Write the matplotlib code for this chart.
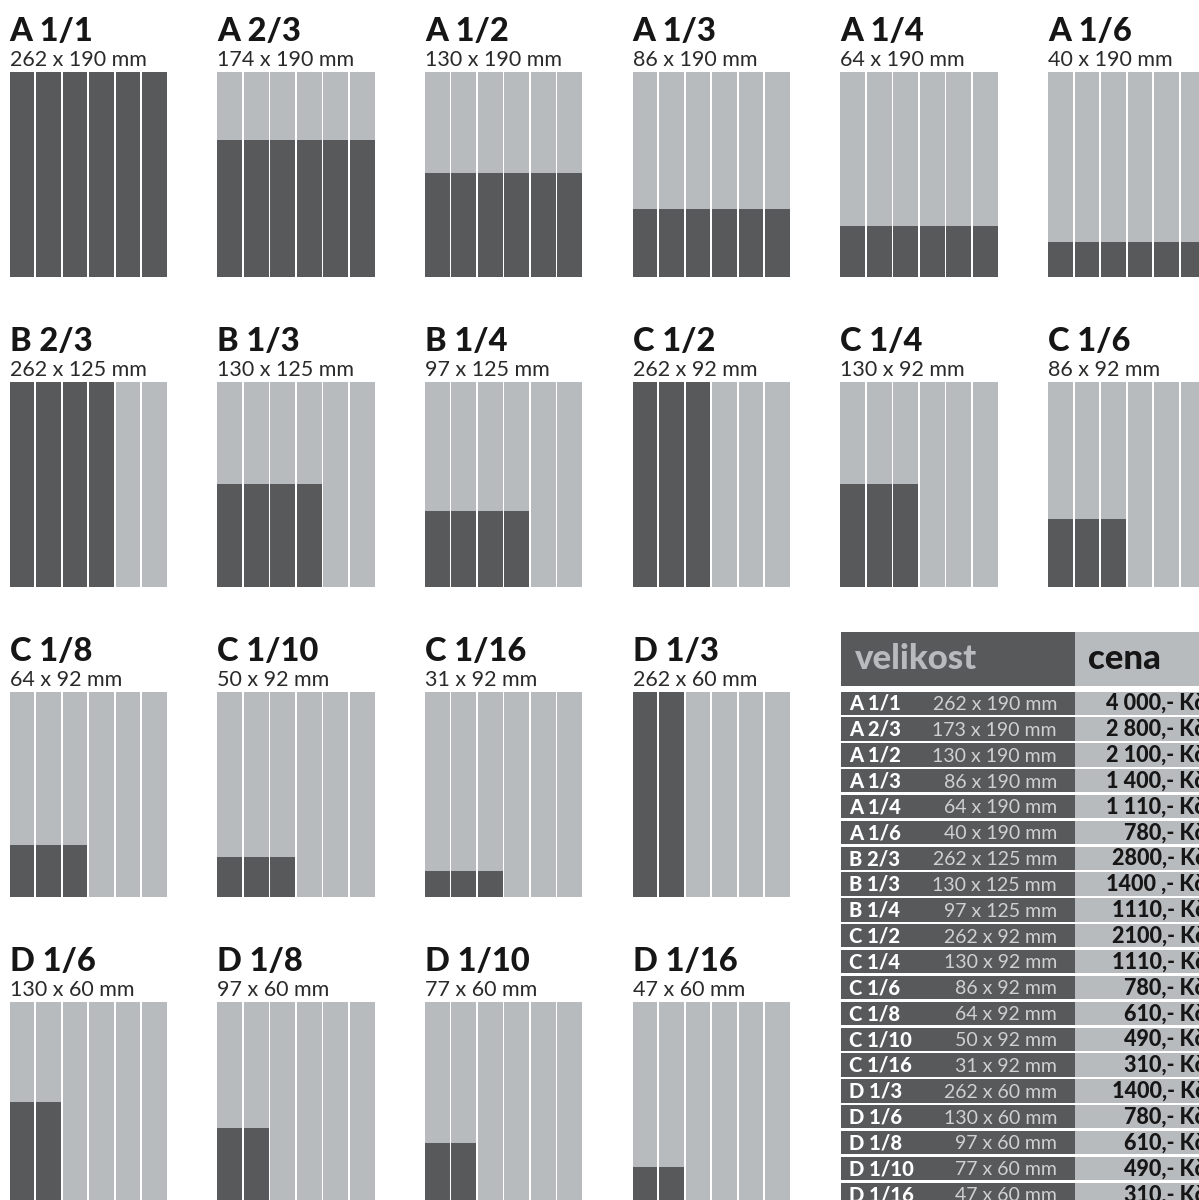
import matplotlib
matplotlib.use("Agg")
import matplotlib.pyplot as plt

# ---------------------------------------------------------
# DATA
# ---------------------------------------------------------

panel_names = ["A 1/1", "A 2/3", "A 1/2", "A 1/3", "A 1/4", "A 1/6",
               "B 2/3", "B 1/3", "B 1/4", "C 1/2", "C 1/4", "C 1/6",
               "C 1/8", "C 1/10", "C 1/16", "D 1/3",
               "D 1/6", "D 1/8", "D 1/10", "D 1/16"]
panel_sizes = ["262 x 190 mm", "174 x 190 mm", "130 x 190 mm", "86 x 190 mm",
               "64 x 190 mm", "40 x 190 mm",
               "262 x 125 mm", "130 x 125 mm", "97 x 125 mm", "262 x 92 mm",
               "130 x 92 mm", "86 x 92 mm",
               "64 x 92 mm", "50 x 92 mm", "31 x 92 mm", "262 x 60 mm",
               "130 x 60 mm", "97 x 60 mm", "77 x 60 mm", "47 x 60 mm"]
# how many of the 6 page columns are filled, and how high (share of page height)
dark_cols = [6, 6, 6, 6, 6, 6,
             4, 4, 4, 3, 3, 3,
             3, 3, 3, 2,
             2, 2, 2, 2]
dark_frac = [1.0, 0.667, 0.505, 0.334, 0.247, 0.171,
             1.0, 0.502, 0.372, 1.0, 0.502, 0.334,
             0.254, 0.193, 0.127, 1.0,
             0.51, 0.387, 0.31, 0.196]
panel_row = [0] * 6 + [1] * 6 + [2] * 4 + [3] * 4
panel_col = list(range(6)) * 2 + list(range(4)) * 2

table_names = ["A 1/1", "A 2/3", "A 1/2", "A 1/3", "A 1/4", "A 1/6",
               "B 2/3", "B 1/3", "B 1/4",
               "C 1/2", "C 1/4", "C 1/6", "C 1/8", "C 1/10", "C 1/16",
               "D 1/3", "D 1/6", "D 1/8", "D 1/10", "D 1/16"]
table_sizes = ["262 x 190 mm", "173 x 190 mm", "130 x 190 mm", "86 x 190 mm",
               "64 x 190 mm", "40 x 190 mm",
               "262 x 125 mm", "130 x 125 mm", "97 x 125 mm",
               "262 x 92 mm", "130 x 92 mm", "86 x 92 mm", "64 x 92 mm",
               "50 x 92 mm", "31 x 92 mm",
               "262 x 60 mm", "130 x 60 mm", "97 x 60 mm", "77 x 60 mm",
               "47 x 60 mm"]
table_prices = ["4 000,- Kč", "2 800,- Kč", "2 100,- Kč", "1 400,- Kč",
                "1 110,- Kč", "780,- Kč",
                "2800,- Kč", "1400 ,- Kč", "1110,- Kč",
                "2100,- Kč", "1110,- Kč", "780,- Kč", "610,- Kč",
                "490,- Kč", "310,- Kč",
                "1400,- Kč", "780,- Kč", "610,- Kč", "490,- Kč", "310,- Kč"]
table_header = ["velikost", "cena"]

# ---------------------------------------------------------
# STYLE / LAYOUT
# ---------------------------------------------------------

DARK = "#58595b"
LIGHT = "#b8bbbe"
INK = "#161616"
FONT = ["Lato", "DejaVu Sans"]

W, H = 1199, 1200
x0, x_pitch = 9.5, 207.7
top0, y_pitch = 72, 310
box_w, box_h = 159, 205
n_cols = 6
gap = 1.6

fig = plt.figure(figsize=(W / 100, H / 100), dpi=100)
ax = fig.add_axes([0, 0, 1, 1])
ax.set_xlim(0, W)
ax.set_ylim(H, 0)
ax.axis("off")

# ---------------------------------------------------------
# PAGE DIAGRAMS
# ---------------------------------------------------------

col_w = box_w / n_cols
for i, name in enumerate(panel_names):
    left = x0 + panel_col[i] * x_pitch
    top = top0 + panel_row[i] * y_pitch
    xs = [left + k * col_w for k in range(n_cols)]

    # empty page columns
    ax.bar(xs, [box_h] * n_cols, bottom=top, width=col_w - gap,
           align="edge", color=LIGHT, linewidth=0)

    # occupied part
    n = dark_cols[i]
    h = box_h * dark_frac[i]
    ax.bar(xs[:n], [h] * n, bottom=top + box_h - h, width=col_w - gap,
           align="edge", color=DARK, linewidth=0)

    ax.text(left, top - 31, name, family=FONT, fontsize=23.5,
            fontweight="black", color=INK, va="baseline")
    ax.text(left, top - 6, panel_sizes[i], family=FONT, fontsize=15.5,
            color="#2a2a2a", va="baseline")

# ---------------------------------------------------------
# PRICE TABLE
# ---------------------------------------------------------

t_left, t_split, t_right = 841, 1075, 1230
head_top, head_h = 632, 54
row_top0, row_pitch, row_h = 691.5, 25.85, 23.3

ax.barh([head_top], [t_split - t_left], left=t_left, height=head_h,
        align="edge", color=DARK, linewidth=0)
ax.barh([head_top], [t_right - t_split], left=t_split, height=head_h,
        align="edge", color=LIGHT, linewidth=0)
ax.text(t_left + 14, head_top + 37, table_header[0], family=FONT,
        fontsize=25, fontweight="black", color=LIGHT, va="baseline")
ax.text(t_split + 13, head_top + 37, table_header[1], family=FONT,
        fontsize=25, fontweight="black", color=INK, va="baseline")

row_tops = [row_top0 + j * row_pitch for j in range(len(table_names))]
ax.barh(row_tops, [t_split - t_left] * len(row_tops), left=t_left,
        height=row_h, align="edge", color=DARK, linewidth=0)
ax.barh(row_tops, [t_right - t_split] * len(row_tops), left=t_split,
        height=row_h, align="edge", color=LIGHT, linewidth=0)

for j, y in enumerate(row_tops):
    base = y + 18.5
    ax.text(t_left + 8, base, table_names[j], family=FONT, fontsize=14.5,
            fontweight="black", color="white", va="baseline")
    ax.text(1057, base, table_sizes[j], family=FONT, fontsize=14,
            color="#cfd0d2", ha="right", va="baseline")
    ax.text(1205, base, table_prices[j], family=FONT, fontsize=15.5,
            fontweight="black", color=INK, ha="right", va="baseline")

fig.savefig("out.png", dpi=100)
